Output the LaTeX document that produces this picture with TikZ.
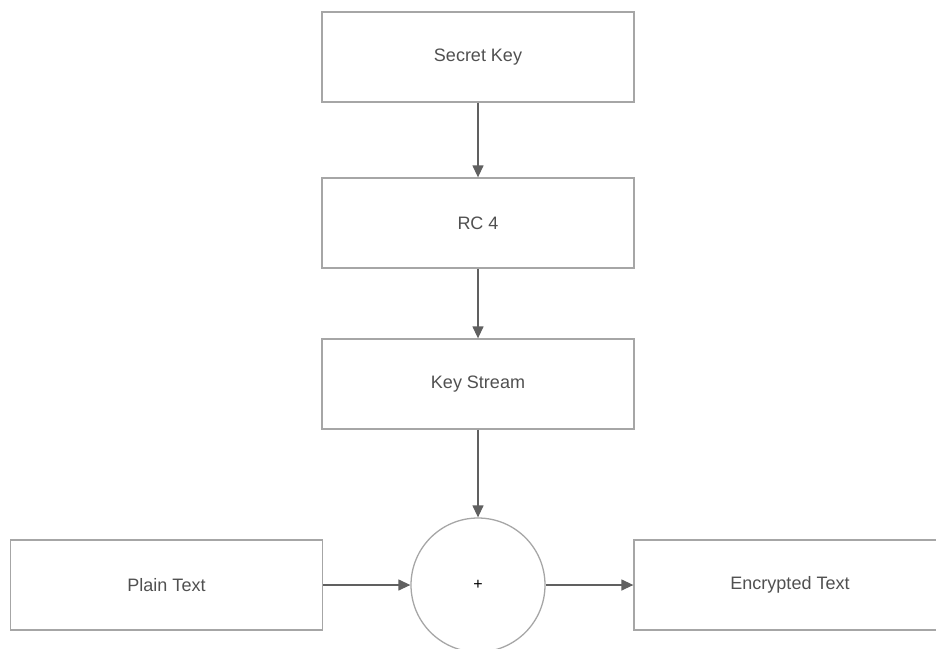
\documentclass[tikz,border=0pt]{standalone}
\usepackage{fontspec}
\setmainfont{Liberation Sans}
\usetikzlibrary{arrows.meta}
\definecolor{boxgray}{HTML}{A6A6A6}
\definecolor{arrowgray}{HTML}{606060}
\definecolor{textgray}{HTML}{505050}
\begin{document}
\begin{tikzpicture}[x=1pt,y=-1pt,
  box/.style={draw=boxgray, line width=1.3pt, minimum width=312pt,
    minimum height=90pt, inner sep=0pt, font=\fontsize{18}{20}\selectfont, text=textgray},
  xorcircle/.style={circle, draw=boxgray, line width=1.3pt, minimum size=134pt,
    inner sep=0pt, font=\fontsize{16}{18}\selectfont, text=black},
  conn/.style={draw=arrowgray, line width=1.3pt,
    -{Triangle[length=12pt,width=11pt]}}]
\useasboundingbox (0,0) rectangle (936,648);
\clip (0,0) rectangle (936,648);
% key scheduling chain
\node[box] (key) at (478,57) {Secret Key};
\node[box] (rc4) at (478,223) {RC 4};
\node[box] (ks) at (478,384) {Key Stream};
% combining stage
\node[xorcircle] (xor) at (478,585) {+};
\node[box] (pt) at (166.5,585) {Plain Text};
\node[box] (ct) at (790,585) {Encrypted Text};
% connectors
\draw[conn] (key) -- (rc4);
\draw[conn] (rc4) -- (ks);
\draw[conn] (ks) -- (xor);
\draw[conn] (pt) -- (xor);
\draw[conn] (xor) -- (ct);
\end{tikzpicture}
\end{document}
